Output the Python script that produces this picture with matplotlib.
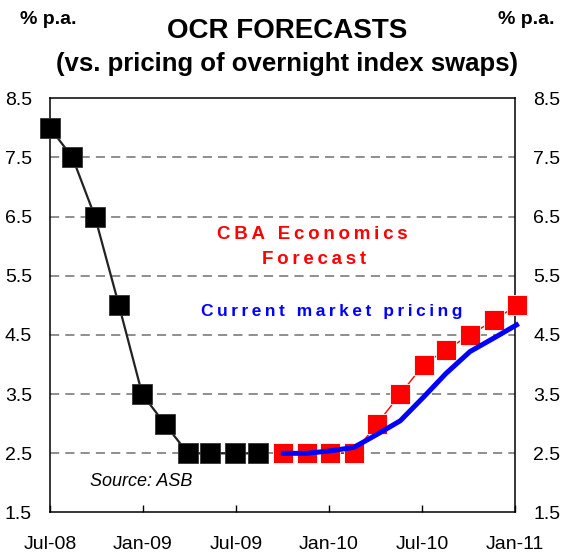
from matplotlib import pyplot as plt

plt.rcParams['font.family'] = ['Liberation Sans', 'DejaVu Sans']

# months counted from Jul-08
actual_months = [0, 1.45, 2.9, 4.45, 5.95, 7.4, 8.9, 10.35, 11.95, 13.4]
actual_ocr = [8.0, 7.5, 6.5, 5.0, 3.5, 3.0, 2.5, 2.5, 2.5, 2.5]

forecast_months = [15.05, 16.55, 18.05, 19.6, 21.1, 22.6, 24.1, 25.55, 27.1, 28.65, 30.1]
cba_forecast = [2.5, 2.5, 2.5, 2.5, 3.0, 3.5, 4.0, 4.25, 4.5, 4.75, 5.0]
market_pricing = [2.5, 2.5, 2.54, 2.6, 2.82, 3.05, 3.45, 3.85, 4.22, 4.45, 4.67]

tick_months = [0, 6, 12, 18, 24, 30]
tick_labels = ['Jul-08', 'Jan-09', 'Jul-09', 'Jan-10', 'Jul-10', 'Jan-11']
y_ticks = [1.5, 2.5, 3.5, 4.5, 5.5, 6.5, 7.5, 8.5]


def spaced(s):
	# put thin spaces between letters, the original has wide letter spacing
	return '\u2009'.join(s)


fig = plt.figure(figsize=(5.74, 5.55), dpi=100)
ax = fig.add_axes([0.0871, 0.0766, 0.8101, 0.7463])

# dashed gridlines (not on the frame)
for y in y_ticks[1:-1]:
	ax.axhline(y, color='#707070', lw=1.1, linestyle=(0, (6, 4)), zorder=1)

ax.plot(actual_months, actual_ocr, color='#222222', lw=1.6, marker='s',
	markersize=15, markerfacecolor='black', markeredgecolor='#333333',
	markeredgewidth=0.6, clip_on=False, zorder=3)
ax.plot(forecast_months, cba_forecast, color='red', lw=1, marker='s',
	markersize=15, markerfacecolor='red', markeredgecolor='white',
	markeredgewidth=0.6, clip_on=False, zorder=3)
ax.plot(forecast_months, market_pricing, color='#0000ff', lw=3.6,
	solid_joinstyle='round', clip_on=False, zorder=4)

ax.set_xlim(0, 30)
ax.set_ylim(1.5, 8.5)
ax.set_yticks(y_ticks)
ax.set_yticklabels([str(v) for v in y_ticks])
ax.set_xticks(tick_months)
ax.set_xticklabels(tick_labels)
ax.tick_params(axis='y', length=0, pad=13, labelsize=14, labelright=True)
ax.tick_params(axis='x', direction='in', length=5, width=1, pad=17, labelsize=14)
for s in ax.spines.values():
	s.set_linewidth(1.1)

# labels in the plot
ax.text(0.565, 0.672, spaced('CBA Economics'), transform=ax.transAxes,
	color='red', fontsize=13.5, fontweight='bold', ha='center', va='center')
ax.text(0.568, 0.610, spaced('Forecast'), transform=ax.transAxes,
	color='red', fontsize=13.5, fontweight='bold', ha='center', va='center')
ax.text(0.607, 0.485, spaced('Current market pricing'), transform=ax.transAxes,
	color='#0000ff', fontsize=12.5, fontweight='bold', ha='center', va='center')
ax.text(0.086, 0.075, 'Source: ASB', transform=ax.transAxes,
	fontsize=13, fontstyle='italic', ha='left', va='center')

# titles
fig.text(0.5, 1 - 31 / 555, 'OCR FORECASTS', fontsize=20, fontweight='bold',
	ha='center', va='center')
fig.text(0.5, 1 - 64 / 555, '(vs. pricing of overnight index swaps)',
	fontsize=18.5, fontweight='bold', ha='center', va='center')
fig.text(48 / 574, 1 - 24 / 555, '% p.a.', fontsize=14,
	fontweight='bold', ha='center', va='baseline')
fig.text(526 / 574, 1 - 24 / 555, '% p.a.', fontsize=14,
	fontweight='bold', ha='center', va='baseline')

plt.savefig('out.png', dpi=100)
